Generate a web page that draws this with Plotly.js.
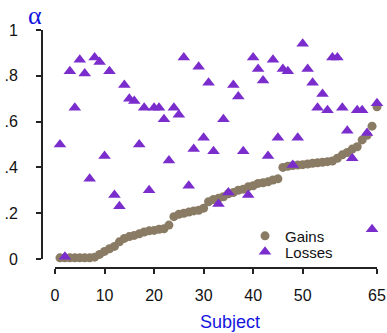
<!DOCTYPE html>
<html>
<head>
<meta charset="utf-8">
<script src="https://cdn.plot.ly/plotly-3.0.1.min.js"></script>
<style>html,body{margin:0;padding:0;background:#fff;}#chart{width:387px;height:333px;}</style>
</head>
<body>
<div id="chart"></div>
<script>
const subjects = Array.from({length: 65}, (_, i) => i + 1);
const gains = [0.005,0.005,0.005,0.005,0.005,0.005,0.005,0.008,0.02,0.033,
  0.045,0.055,0.075,0.09,0.098,0.103,0.11,0.118,0.123,0.125,
  0.13,0.132,0.148,0.185,0.195,0.2,0.205,0.21,0.213,0.222,
  0.25,0.26,0.265,0.272,0.285,0.29,0.3,0.305,0.315,0.32,
  0.33,0.333,0.337,0.345,0.35,0.4,0.405,0.408,0.41,0.412,
  0.415,0.418,0.42,0.422,0.425,0.428,0.44,0.455,0.465,0.48,
  0.49,0.52,0.54,0.58,0.665];
const losses = [0.50,0.01,0.82,0.66,0.87,0.81,0.35,0.88,0.86,0.45,
  0.82,0.28,0.23,0.76,0.70,0.69,0.50,0.66,0.30,0.66,
  0.66,0.61,0.43,0.66,0.63,0.88,0.32,0.48,0.84,0.53,
  0.77,0.47,0.24,0.61,0.29,0.76,0.71,0.47,0.28,0.88,
  0.83,0.78,0.45,0.87,0.53,0.83,0.82,0.41,0.53,0.94,
  0.83,0.77,0.66,0.72,0.65,0.88,0.88,0.66,0.56,0.44,
  0.65,0.65,0.55,0.13,0.68];
const xTicks = [0,10,20,30,40,50,65];
const yTicks = [0,0.2,0.4,0.6,0.8,1];
const yTickText = ['0','.2','.4','.6','.8','1'];

const legFont = {family: 'Liberation Sans, Arial, sans-serif', size: 15, color: '#111'};
const data = [
  {x: subjects, y: gains, name: 'Gains', type: 'scatter', mode: 'markers', cliponaxis: false,
   legend: 'legend', marker: {symbol: 'circle', size: 9, color: '#8a7b64'}},
  {x: subjects, y: losses, name: 'Losses', type: 'scatter', mode: 'markers', cliponaxis: false,
   legend: 'legend2', marker: {symbol: 'triangle-up', size: 11, color: '#7a2ccc'}}
];
const font = {family: 'Liberation Sans, Arial, sans-serif', size: 16, color: '#111'};
const layout = {
  width: 387, height: 333,
  margin: {l: 42, r: 10, t: 30, b: 65},
  paper_bgcolor: '#fff', plot_bgcolor: '#fff',
  font: font,
  showlegend: true,
  legend: {x: 0.606, y: 0.134, xanchor: 'left', yanchor: 'middle', bgcolor: 'rgba(0,0,0,0)',
           font: legFont, itemwidth: 30},
  legend2: {x: 0.606, y: 0.067, xanchor: 'left', yanchor: 'middle', bgcolor: 'rgba(0,0,0,0)',
           font: legFont, itemwidth: 30},
  xaxis: {range: [0, 65], domain: [13/335, 1], anchor: 'free', position: 0,
          tickvals: xTicks, ticktext: xTicks.map(String),
          showgrid: false, zeroline: false, showline: true, linecolor: '#222', linewidth: 2,
          ticks: 'outside', ticklen: 5, tickwidth: 2, tickcolor: '#222', ticklabelstandoff: 8},
  yaxis: {range: [0, 1], domain: [9/238, 1], anchor: 'free', position: 0,
          tickvals: yTicks, ticktext: yTickText,
          showgrid: false, zeroline: false, showline: true, linecolor: '#222', linewidth: 2,
          ticks: 'outside', ticklen: 5, tickwidth: 2, tickcolor: '#222', ticklabelstandoff: 15},
  annotations: [
    {text: 'α', xref: 'paper', yref: 'paper', x: -0.021, y: 1.063, xanchor: 'center', yanchor: 'middle',
     showarrow: false, font: {family: 'Liberation Serif, serif', size: 26, color: '#1515e0'}},
    {text: 'Subject', xref: 'paper', yref: 'paper', x: 0.561, y: -0.227, xanchor: 'center', yanchor: 'middle',
     showarrow: false, font: {family: 'Liberation Sans, Arial, sans-serif', size: 18, color: '#1515e0'}}
  ]
};
Plotly.newPlot('chart', data, layout, {displayModeBar: false, staticPlot: true});
</script>
</body>
</html>
